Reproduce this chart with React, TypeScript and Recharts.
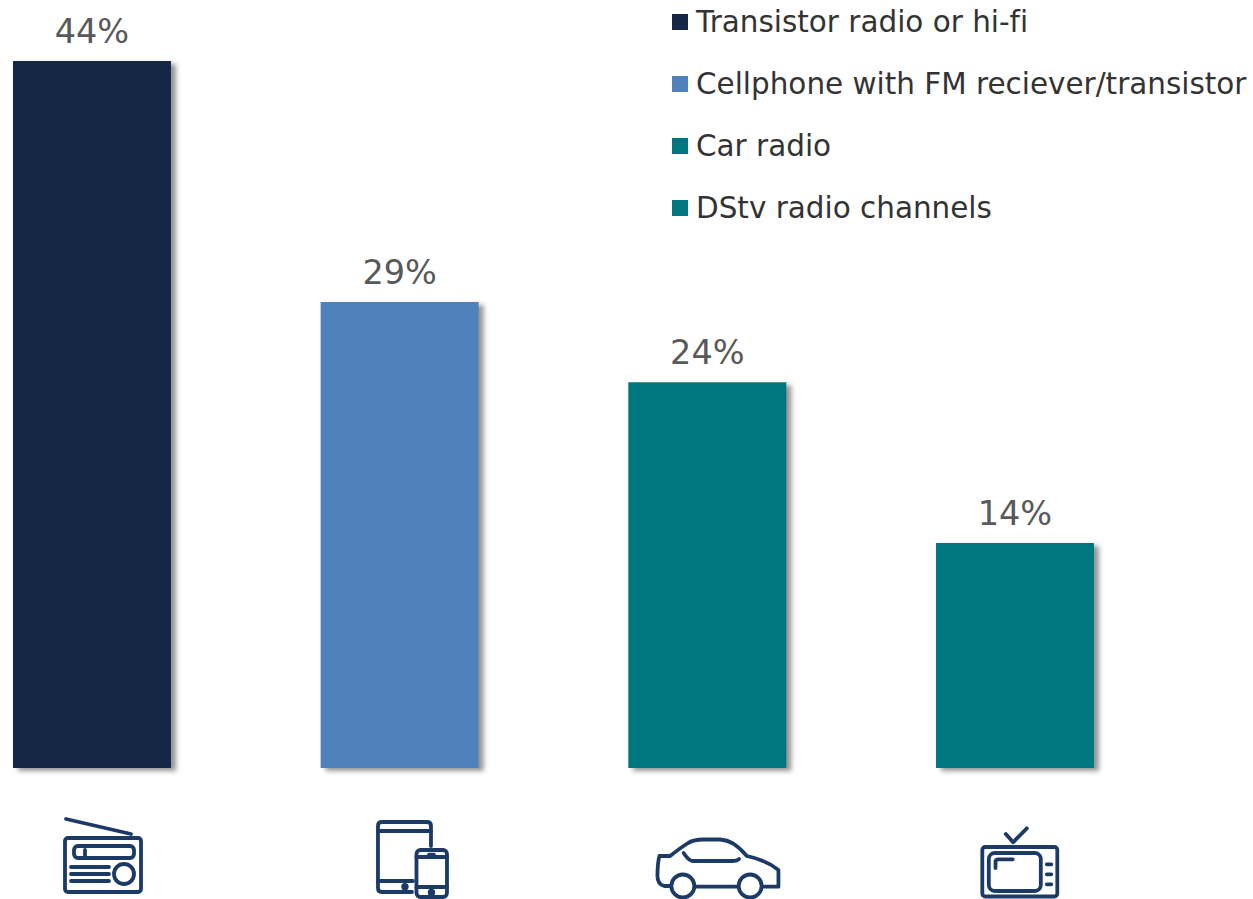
import React from "react";
import { BarChart, Bar, XAxis, YAxis, Cell, LabelList, Legend } from "recharts";

const categories = [
  "Transistor radio or hi-fi",
  "Cellphone with FM reciever/transistor",
  "Car radio",
  "DStv radio channels",
];
const values = [44, 29, 24, 14];
const barColors = ["#152744", "#4f81bd", "#007681", "#007681"];
const table = categories.map((name, i) => ({ name, value: values[i] }));

const ICON = "#1c3a66";
const common = { fill: "none", stroke: ICON, strokeWidth: 3.8, strokeLinecap: "round" as const, strokeLinejoin: "round" as const };

const RadioIcon = () => (
  <g {...common}>
    <path d="M66 819 L131 834" />
    <rect x={65} y={838} width={76} height={54} rx={3} />
    <rect x={74} y={846} width={60} height={12} rx={4} />
    <path d="M85 850 V858" />
    <path d="M71 867 H109 M71 874 H109 M71 881 H109" />
    <circle cx={124} cy={874} r={10} />
  </g>
);
const DevicesIcon = () => (
  <g {...common}>
    <path d="M431 846 V826 Q431 822 427 822 H382 Q378 822 378 826 V888 Q378 892 382 892 H412" />
    <path d="M378 831 H431 M378 881 H413" />
    <circle cx={405} cy={886.7} r={1.8} />
    <rect x={416.5} y={850} width={30.5} height={47} rx={4} />
    <path d="M416.5 857 H447 M416.5 887 H447" />
    <path d="M429 854.7 H434" />
    <circle cx={431.5} cy={892.5} r={1.8} />
  </g>
);
const CarIcon = () => (
  <g {...common}>
    <path d="M670 886 H664 Q657 884 657.3 875 Q657.5 862 659.3 856 H670 Q680 848 688 843 Q694 839.5 703 839.5 H720 Q727 840 733 843.5 Q740 848 746.7 856 Q766 860 778.3 870 V886.7 H762.7" />
    <path d="M695 886.7 H737" />
    <circle cx={682.7} cy={886} r={11.5} />
    <circle cx={750} cy={886} r={11.5} />
    <path d="M683.5 853 Q688 860 692 861 H733 Q737 861 739 859" />
  </g>
);
const TvIcon = () => (
  <g {...common}>
    <path d="M1006 834 L1013.3 842.3 L1027 828.3" />
    <rect x={982.5} y={847} width={75} height={49.5} rx={3} />
    <rect x={989} y={853} width={52} height={38} rx={6} />
    <path d="M995.7 868 V862 Q995.7 859.3 998.5 859.3 H1013" />
    <path d="M1047 864.3 H1051.5 M1047 874.3 H1051.5 M1047 884.3 H1051.5" />
  </g>
);

const icons = [RadioIcon, DevicesIcon, CarIcon, TvIcon];
const iconAnchors = [91.8, 399.5, 707, 1015];

const IconTick = (props: any) => {
  const { x, y, index } = props;
  const Icon = icons[index];
  return (
    <g transform={`translate(${x - iconAnchors[index]},${y - 768})`}>
      <Icon />
    </g>
  );
};

const LegendBox = () => (
  <div style={{ fontFamily: "'DejaVu Sans'", fontSize: 29.45, color: "#333333", fontVariantLigatures: "none" }}>
    {categories.map((c, i) => (
      <div key={c} style={{ display: "flex", alignItems: "center", height: 62, whiteSpace: "nowrap" }}>
        <span style={{ width: 16, height: 16, background: barColors[i], marginRight: 8, flex: "none" }} />
        <span>{c}</span>
      </div>
    ))}
  </div>
);

export default function App() {
  return (
    <div style={{ position: "absolute", left: 0, top: 0, width: 1253, height: 899, background: "#fff" }}>
      <BarChart
        width={1253}
        height={899}
        data={table}
        margin={{ top: 61, right: 84.36, bottom: 0, left: -62.03 }}
        style={{ fontFamily: "'DejaVu Sans'" }}
      >
        <YAxis hide domain={[0, 44]} />
        <XAxis
          dataKey="name"
          axisLine={false}
          tickLine={false}
          tickSize={0}
          tickMargin={0}
          height={131}
          interval={0}
          tick={<IconTick />}
        />
        <Legend
          layout="vertical"
          align="center"
          verticalAlign="middle"
          content={<LegendBox />}
          wrapperStyle={{ position: "absolute", left: 672, top: -9.5, width: 580 }}
        />
        <Bar
          dataKey="value"
          barSize={158}
          isAnimationActive={false}
          style={{ filter: "drop-shadow(5px 3px 2.5px rgba(0,0,0,0.42))" }}
        >
          {table.map((d, i) => (
            <Cell key={d.name} fill={barColors[i]} />
          ))}
          <LabelList
            dataKey="value"
            position="top"
            offset={18}
            formatter={(v: any) => `${v}%`}
            style={{ fontSize: 33.5, fill: "#595959", fontFamily: "'DejaVu Sans'" }}
          />
        </Bar>
      </BarChart>
    </div>
  );
}
